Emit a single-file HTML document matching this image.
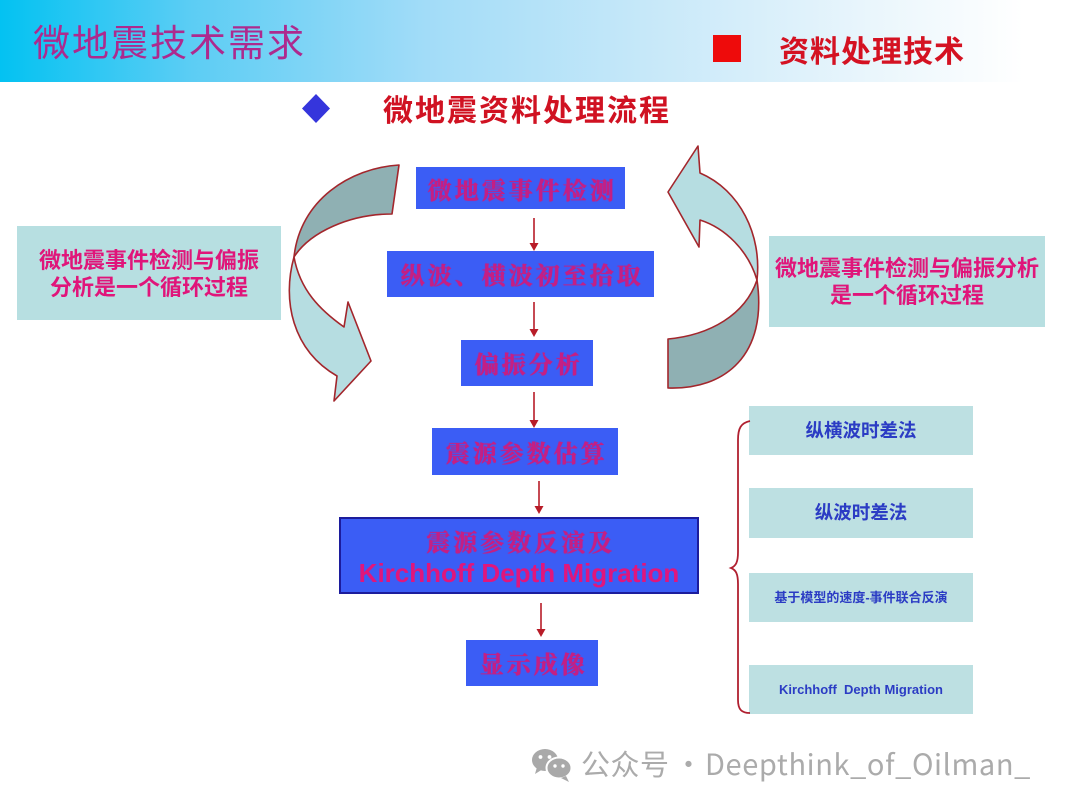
<!DOCTYPE html>
<html>
<head>
<meta charset="utf-8">
<style>
  html,body{margin:0;padding:0;}
  body{width:1066px;height:809px;position:relative;overflow:hidden;background:#ffffff;
       font-family:"Liberation Sans","Noto Sans CJK SC",sans-serif;}
  .abs{position:absolute;}
  .header{left:0;top:0;width:1066px;height:82px;
    background:linear-gradient(to right,#03c2f2 0%,#5ccdf4 18%,#a2dcf8 40%,#c9e9f9 62%,#eaf6fc 82%,#ffffff 96%);}
  .title{left:33px;top:20px;font-family:"Noto Sans CJK SC",sans-serif;font-size:37px;line-height:40px;
    color:#ad2a8e;letter-spacing:2px;white-space:nowrap;}
  .sub1{left:779px;top:32px;font-family:"Noto Sans CJK SC",sans-serif;font-weight:700;font-size:30px;line-height:34px;
    color:#d41222;white-space:nowrap;letter-spacing:1px;}
  .redsq{left:713px;top:35px;width:28px;height:27px;background:#ee0b0b;}
  .sub2{left:383px;top:91px;font-family:"Noto Sans CJK SC",sans-serif;font-weight:700;font-size:30px;line-height:34px;
    color:#d01222;white-space:nowrap;letter-spacing:2px;}
  .fbox{background:#3b5df5;text-align:center;color:#c41f84;
    font-family:"Noto Serif CJK SC","Noto Sans CJK SC",serif;font-weight:700;font-size:24px;
    letter-spacing:3px;white-space:nowrap;box-sizing:border-box;padding-left:3px;
    text-shadow:0 0 1px #c41f84, 0.5px 0 0 #c41f84;}
  .tbox{background:#b7dfe1;text-align:center;color:#e0157a;font-family:"Noto Sans CJK SC",sans-serif;
    font-weight:700;font-size:22px;line-height:27px;white-space:nowrap;box-sizing:border-box;}
  .lbox{background:#bde0e2;text-align:center;color:#2b3cc4;font-family:"Liberation Sans","Noto Sans CJK SC",sans-serif;
    font-weight:700;white-space:nowrap;left:749px;width:224px;}
  .foot{font-family:"Noto Sans CJK SC",sans-serif;color:#ababab;font-size:29px;white-space:nowrap;line-height:34px;}
</style>
</head>
<body>
  <div class="abs header"></div>
  <div class="abs title">微地震技术需求</div>
  <div class="abs redsq"></div>
  <div class="abs sub1">资料处理技术</div>
  <div class="abs sub2">微地震资料处理流程</div>

  <!-- flow boxes -->
  <div class="abs fbox" style="left:416px;top:167px;width:209px;height:42px;line-height:44px;">微地震事件检测</div>
  <div class="abs fbox" style="left:387px;top:251px;width:267px;height:46px;line-height:46px;">纵波、横波初至拾取</div>
  <div class="abs fbox" style="left:461px;top:340px;width:132px;height:46px;line-height:46px;">偏振分析</div>
  <div class="abs fbox" style="left:432px;top:428px;width:186px;height:47px;line-height:47px;">震源参数估算</div>
  <div class="abs fbox" style="left:339px;top:517px;width:360px;height:77px;border:2px solid #1c1c9c;padding-left:0;">
    <div style="position:absolute;left:0;top:7px;width:356px;line-height:30px;padding-left:3px;box-sizing:border-box;">震源参数反演及</div>
    <div style="position:absolute;left:0;top:38px;width:356px;line-height:32px;font-family:'Liberation Sans',sans-serif;font-weight:700;font-size:26px;letter-spacing:0;color:#e0167c;text-shadow:none;">Kirchhoff Depth Migration</div>
  </div>
  <div class="abs fbox" style="left:466px;top:640px;width:132px;height:46px;line-height:46px;">显示成像</div>

  <!-- side text boxes -->
  <div class="abs tbox" style="left:17px;top:226px;width:264px;height:94px;padding-top:20px;">微地震事件检测与偏振<br>分析是一个循环过程</div>
  <div class="abs tbox" style="left:769px;top:236px;width:276px;height:91px;padding-top:18px;">微地震事件检测与偏振分析<br>是一个循环过程</div>

  <!-- right list -->
  <div class="abs lbox" style="top:406px;height:49px;line-height:49px;font-size:18.5px;">纵横波时差法</div>
  <div class="abs lbox" style="top:488px;height:50px;line-height:50px;font-size:18.5px;">纵波时差法</div>
  <div class="abs lbox" style="top:573px;height:49px;line-height:49px;font-size:13px;">基于模型的速度-事件联合反演</div>
  <div class="abs lbox" style="top:665px;height:49px;line-height:49px;font-size:13px;">Kirchhoff&nbsp; Depth Migration</div>

  <svg class="abs" style="left:0;top:0;" width="1066" height="809" viewBox="0 0 1066 809">
    <!-- diamond -->
    <polygon points="316,94 330,108.5 316,123 302,108.5" fill="#3535dc"/>

    <!-- left curved arrow -->
    <path d="M399,165 C350,168 300,200 294,257 C310,232 350,214 392,214 Z" fill="#8fb0b3" stroke="#a3262c" stroke-width="1.6" stroke-linejoin="round"/>
    <path d="M294,257 C282,300 292,350 337,376 L334,401 L371,361 L348,302 L344,327 C320,310 300,290 294,257 Z" fill="#b6dde1" stroke="#a3262c" stroke-width="1.6" stroke-linejoin="round"/>

    <!-- right curved arrow -->
    <path d="M757,280 C762,235 740,190 700,173 L698,146 L668,192 L699,247 L700,220 C725,228 748,250 757,280 Z" fill="#b6dde1" stroke="#a3262c" stroke-width="1.6" stroke-linejoin="round"/>
    <path d="M757,280 C745,315 710,335 668,339 L668,388 C725,390 768,355 757,280 Z" fill="#8fb0b3" stroke="#a3262c" stroke-width="1.6" stroke-linejoin="round"/>

    <!-- flow arrows -->
    <g stroke="#b81c28" stroke-width="1.6" fill="#b81c28">
      <line x1="534" y1="218" x2="534" y2="244"/>
      <polygon points="529.5,243 538.5,243 534,251" stroke="none"/>
      <line x1="534" y1="302" x2="534" y2="330"/>
      <polygon points="529.5,329 538.5,329 534,337" stroke="none"/>
      <line x1="534" y1="392" x2="534" y2="421"/>
      <polygon points="529.5,420 538.5,420 534,428" stroke="none"/>
      <line x1="539" y1="481" x2="539" y2="507"/>
      <polygon points="534.5,506 543.5,506 539,514" stroke="none"/>
      <line x1="541" y1="603" x2="541" y2="630"/>
      <polygon points="536.5,629 545.5,629 541,637" stroke="none"/>
    </g>

    <!-- brace -->
    <path d="M750,421 C741,423 738,428 738,440 L738,552 C738,562 736,566 731,568 C736,570 738,574 738,584 L738,700 C738,710 742,713 750,713" fill="none" stroke="#b02030" stroke-width="1.8"/>

    <!-- wechat icon -->
    <ellipse cx="545" cy="760" rx="13" ry="11" fill="#a9a9a9"/>
    <polygon points="537,767 535,774 543,769" fill="#a9a9a9"/>
    <circle cx="540.5" cy="757" r="1.9" fill="#ffffff"/>
    <circle cx="549.5" cy="757" r="1.9" fill="#ffffff"/>
    <ellipse cx="559" cy="768" rx="12.5" ry="10.5" fill="#a9a9a9" stroke="#ffffff" stroke-width="2"/>
    <polygon points="566,776 569,782 561,778" fill="#a9a9a9"/>
    <circle cx="555" cy="766" r="1.7" fill="#ffffff"/>
    <circle cx="563" cy="766" r="1.7" fill="#ffffff"/>
  </svg>

  <!-- footer watermark -->
  <div class="abs foot" style="left:581px;top:746px;letter-spacing:0.5px;">公众号</div>
  <div class="abs foot" style="left:674px;top:746px;">·</div>
  <div class="abs foot" style="left:705px;top:746px;letter-spacing:0.6px;">Deepthink_of_Oilman_</div>
</body>
</html>
